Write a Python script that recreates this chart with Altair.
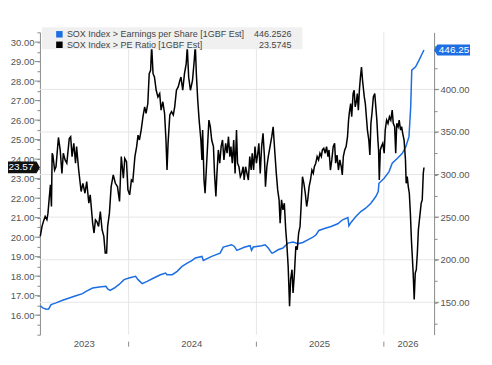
import altair as alt
import pandas as pd

# ---------------- data ----------------
base_date = "2024-01-01"  # day offsets below are relative to this date

pe_days = [-253, -248, -244, -239, -234, -231, -227, -224, -221, -219, -217, -212, -208, -201, -196,
           -191, -187, -182, -177, -170, -166, -162, -157, -152, -149, -143, -136, -131, -125, -120,
           -114, -110, -103, -99, -95, -91, -86, -81, -76, -71, -67, -63, -60, -55, -50, -44, -38,
           -32, -26, -21, -15, -11, -6, -2, 3, 8, 12, 18, 23, 27, 31, 36, 41, 46, 50, 55, 59, 63, 66,
           70, 74, 79, 84, 89, 93, 98, 103, 107, 110, 113, 118, 123, 128, 132, 137, 142, 147, 150,
           155, 160, 165, 168, 172, 177, 183, 188, 191, 194, 198, 202, 207, 210, 212, 216, 219, 223,
           227, 230, 234, 238, 243, 246, 250, 253, 257, 261, 265, 269, 273, 278, 282, 286, 290, 293,
           297, 301, 305, 309, 312, 316, 320, 324, 328, 331, 335, 339, 343, 347, 351, 354, 358, 362,
           366, 370, 373, 377, 381, 385, 389, 392, 396, 400, 405, 410, 414, 419, 423, 427, 431, 434,
           438, 442, 446, 450, 453, 457, 461, 464, 468, 471, 475, 479, 483, 487, 491, 494, 498, 502,
           506, 510, 513, 517, 521, 525, 529, 532, 536, 540, 544, 548, 552, 555, 559, 563, 567, 571,
           574, 578, 582, 586, 590, 593, 597, 601, 605, 609, 612, 615, 619, 623, 627, 630, 632, 636,
           639, 643, 646, 649, 653, 655, 658, 661, 664, 667, 670, 673, 675, 678, 681, 684, 688, 691,
           694, 697, 701, 705, 708, 711, 714, 716, 718, 721, 724, 728, 732, 735, 739, 743, 747, 751,
           755, 758, 762, 765, 768, 772, 775, 779, 782, 785, 789, 793, 795, 798, 801, 804, 807, 810,
           813, 815, 818, 821, 824, 827, 830, 833, 835, 838, 841, 844, 846]
pe_vals = [20.04, 20.55, 20.80, 21.06, 20.89, 21.23, 22.08, 22.68, 21.57, 24.30, 24.21, 23.44, 23.61,
           25.11, 24.47, 23.27, 24.30, 23.96, 23.79, 25.06, 25.15, 24.13, 24.81, 23.79, 24.64, 23.44,
           22.34, 22.76, 22.25, 22.85, 21.74, 22.17, 20.72, 20.21, 20.89, 20.80, 20.55, 21.31, 20.38,
           20.04, 19.19, 19.19, 20.55, 21.23, 22.59, 23.19, 22.76, 22.59, 21.83, 24.13, 23.02, 24.04,
           23.87, 22.42, 22.17, 22.93, 22.85, 24.13, 24.64, 25.23, 24.98, 25.49, 26.17, 26.68, 26.34,
           26.85, 28.38, 28.55, 29.80, 28.38, 28.21, 27.53, 27.19, 27.36, 26.51, 26.94, 26.34, 24.98,
           23.44, 24.81, 26.26, 26.43, 26.26, 26.68, 27.53, 27.70, 28.04, 28.21, 27.53, 28.38, 28.89,
           29.75, 28.21, 27.53, 28.04, 29.07, 29.85, 28.38, 27.02, 26.00, 24.98, 23.96, 25.49, 22.93,
           22.25, 23.61, 24.98, 26.00, 25.66, 24.98, 24.64, 23.27, 22.08, 23.27, 24.47, 23.79, 24.64,
           24.98, 23.96, 24.81, 24.30, 25.15, 24.13, 24.64, 23.79, 24.98, 23.27, 25.49, 23.79, 23.61,
           23.10, 23.27, 23.61, 22.93, 23.61, 23.27, 22.93, 24.13, 23.44, 24.30, 23.44, 24.64, 23.79,
           24.30, 24.81, 23.27, 24.64, 25.32, 24.13, 22.59, 23.61, 24.13, 24.64, 25.15, 25.66, 24.30,
           23.27, 22.42, 21.91, 20.72, 21.91, 21.40, 21.74, 20.38, 19.70, 18.50, 16.46, 17.82, 18.33,
           17.14, 18.16, 19.53, 19.36, 20.21, 20.55, 21.57, 23.10, 22.76, 22.25, 21.57, 21.91, 22.59,
           22.93, 23.44, 23.27, 23.61, 23.79, 24.13, 23.96, 24.30, 24.13, 24.47, 24.55, 24.30, 24.64,
           24.13, 24.47, 23.44, 23.96, 24.64, 24.81, 23.79, 24.21, 23.44, 23.96, 23.61, 23.19, 24.13,
           24.47, 24.64, 25.15, 26.00, 26.34, 26.85, 26.17, 27.36, 27.53, 26.68, 27.02, 27.36, 26.51,
           27.53, 28.21, 28.72, 28.04, 27.53, 27.19, 26.85, 26.17, 25.49, 24.98, 24.21, 25.83, 26.34,
           27.19, 27.36, 26.68, 26.00, 24.98, 24.47, 22.93, 24.47, 24.64, 24.81, 24.30, 25.49, 26.00,
           25.83, 26.17, 26.00, 26.51, 25.83, 25.66, 24.30, 25.83, 25.66, 26.00, 25.49, 25.66, 25.32,
           24.98, 23.96, 22.76, 23.10, 22.59, 22.25, 21.23, 19.87, 18.85, 18.16, 16.80, 18.16, 18.33,
           19.19, 20.38, 20.89, 21.23, 21.74, 21.91, 23.27, 23.57]

eps_days = [-253, -246, -236, -229, -222, -208, -189, -170, -151, -132, -122, -103, -84, -65, -60,
            -53, -41, -28, -13, 1, 20, 27, 39, 53, 72, 91, 106, 110, 125, 139, 153, 168, 182, 191,
            210, 214, 238, 262, 271, 295, 303, 310, 333, 348, 352, 357, 381, 391, 400, 410, 413, 428,
            442, 456, 471, 485, 499, 513, 528, 537, 545, 561, 580, 599, 613, 628, 631, 637, 651, 665,
            679, 694, 708, 715, 717, 732, 746, 755, 770, 784, 794, 803, 808, 811, 822, 832, 841, 846]
eps_vals = [146.0, 143.5, 142.0, 142.2, 147.3, 149.3, 152.4, 155.1, 157.8, 160.2, 162.9, 166.8, 168.0,
            168.8, 165.7, 164.1, 166.8, 170.7, 176.6, 178.5, 180.5, 176.6, 171.9, 174.6, 178.5, 182.4,
            184.4, 182.4, 182.4, 186.4, 192.2, 196.1, 199.2, 202.0, 203.9, 199.2, 203.9, 207.8, 214.9,
            217.6, 215.6, 211.0, 214.9, 216.4, 211.0, 214.9, 216.4, 217.6, 213.7, 207.8, 207.8, 211.7,
            213.7, 219.5, 220.7, 218.8, 220.3, 223.4, 226.6, 229.3, 234.4, 236.7, 239.1, 242.2, 246.9,
            249.6, 239.8, 243.8, 250.8, 256.6, 260.5, 266.4, 274.2, 280.0, 289.8, 295.7, 303.5, 313.3,
            319.1, 325.0, 332.8, 344.5, 379.7, 422.6, 426.5, 434.3, 442.1, 446.25]

legend_labels = ["SOX Index > Earnings per Share [1GBF Est]", "SOX Index > PE Ratio [1GBF Est]"]
legend_values = ["446.2526", "23.5745"]
pe_last = 23.5745
eps_last = 446.2526

year_labels = ["2023", "2024", "2025", "2026"]
year_label_dates = ["2023-08-27", "2024-06-30", "2025-07-01", "2026-03-11"]
year_starts = ["2024-01-01", "2025-01-01", "2026-01-01"]
quarter_ticks = ["2023-07-01", "2023-10-01", "2024-04-01", "2024-07-01", "2024-10-01",
                 "2025-04-01", "2025-07-01", "2025-10-01", "2026-04-01"]
x_domain = ["2023-04-22", "2026-05-25"]
left_domain = [15.0, 30.5]
right_domain = [112.0, 467.0]
left_major = list(range(16, 31))
right_major = [150, 200, 250, 300, 350, 400, 450]
right_grid_values = [150, 200, 250, 300, 350, 400]

# ---------------- styling ----------------
FONT = "Liberation Sans"
BLUE = "#1c6ee2"
BLACK = "#000000"
GRID = "#e6e6e6"
AXIS = "#8c8c8c"
LABEL = "#555555"
W, H = 395, 303


def dt(s):
    t = pd.Timestamp(s)
    return alt.DateTime(year=t.year, month=t.month, date=t.day)


base = pd.Timestamp(base_date)
pe_df = pd.DataFrame({"date": base + pd.to_timedelta(pe_days, unit="D"), "pe": pe_vals})
eps_df = pd.DataFrame({"date": base + pd.to_timedelta(eps_days, unit="D"), "eps": eps_vals})
ys_df = pd.DataFrame({"date": pd.to_datetime(year_starts)})
yl_df = pd.DataFrame({"date": pd.to_datetime(year_label_dates), "label": year_labels})
pe_last_df = pd.DataFrame({"pe": [pe_last], "txt": [f"{pe_last:.2f}"]})
eps_last_df = pd.DataFrame({"eps": [eps_last], "txt": [f"{eps_last:.2f}"]})
grid_df = pd.DataFrame({"eps": right_grid_values})
rmaj_df = pd.DataFrame({"eps": right_major})
lmaj_df = pd.DataFrame({"pe": left_major})
one = pd.DataFrame({"a": [0]})


def xs():
    return alt.Scale(domain=[dt(x_domain[0]), dt(x_domain[1])])


def ls():
    return alt.Scale(domain=left_domain, nice=False, zero=False)


def rs():
    return alt.Scale(domain=right_domain, nice=False, zero=False)


x_axis = alt.Axis(values=[dt(q) for q in quarter_ticks], labels=False, grid=False, tickSize=3,
                  tickColor=AXIS, domainColor=AXIS, title=None)
x_plain = alt.X("date:T", scale=xs(), axis=None)

left_ticks = [left_domain[0] + 0.5 * i for i in range(int((left_domain[1] - left_domain[0]) / 0.5) + 1)]
left_axis = alt.Axis(orient="left", values=left_ticks, grid=False, title=None,
                     labelExpr="datum.value % 1 === 0 && datum.value >= 16 ? format(datum.value, '.2f') : ''",
                     tickSize=3, labelPadding=3, labelOverlap=False, labelFont=FONT, labelFontSize=9.5,
                     labelColor=LABEL, tickColor=AXIS, domainColor=AXIS)
right_ticks = list(range(125, 451, 25))
right_axis = alt.Axis(orient="right", values=right_ticks, grid=False, title=None,
                      labelExpr="datum.value % 50 === 0 && datum.value <= 400 ? format(datum.value, '.2f') : ''",
                      tickSize=3, labelPadding=3, labelOverlap=False, labelFont=FONT, labelFontSize=9.5,
                      labelColor=LABEL, tickColor=AXIS, domainColor=AXIS)

# vertical year gridlines
vgrid = alt.Chart(ys_df).mark_rule(color=GRID, strokeWidth=1).encode(
    x=x_plain, y=alt.value(0), y2=alt.value(H))
# horizontal gridlines at the right-axis values
hgrid = alt.Chart(grid_df).mark_rule(color=GRID, strokeWidth=1).encode(
    y=alt.Y("eps:Q", scale=rs(), axis=None), x=alt.value(0), x2=alt.value(W))

# EPS series (right axis)
eps_line = alt.Chart(eps_df).mark_line(color=BLUE, strokeWidth=1.5).encode(
    x=x_plain, y=alt.Y("eps:Q", scale=rs(), axis=right_axis))
rmaj = alt.Chart(rmaj_df).mark_rule(color=AXIS, strokeWidth=1).encode(
    y=alt.Y("eps:Q", scale=rs(), axis=None), x=alt.value(W), x2=alt.value(W + 5))
eps_badge = alt.Chart(eps_last_df).mark_point(
    shape="M-1,0L-0.82,-0.31L1,-0.31L1,0.31L-0.82,0.31Z", size=1296, filled=True,
    fill=BLUE, opacity=1, strokeWidth=0).encode(
    x=alt.value(W + 18), y=alt.Y("eps:Q", scale=rs(), axis=None))
eps_badge_txt = alt.Chart(eps_last_df).mark_text(
    color="white", font=FONT, fontSize=10, align="center", baseline="middle").encode(
    x=alt.value(W + 20), y=alt.Y("eps:Q", scale=rs(), axis=None), text="txt:N")

# PE series (left axis)
pe_line = alt.Chart(pe_df).mark_line(color=BLACK, strokeWidth=1.5).encode(
    x=alt.X("date:T", scale=xs(), axis=x_axis),
    y=alt.Y("pe:Q", scale=ls(), axis=left_axis))
lmaj = alt.Chart(lmaj_df).mark_rule(color=AXIS, strokeWidth=1).encode(
    y=alt.Y("pe:Q", scale=ls(), axis=None), x=alt.value(-5), x2=alt.value(0))
pe_badge = alt.Chart(pe_last_df).mark_point(
    shape="M-1,-0.35L0.8,-0.35L1,0L0.8,0.35L-1,0.35Z", size=1156, filled=True,
    fill="#111111", opacity=1, strokeWidth=0).encode(
    x=alt.value(-17), y=alt.Y("pe:Q", scale=ls(), axis=None))
pe_badge_txt = alt.Chart(pe_last_df).mark_text(
    color="white", font=FONT, fontSize=10, align="center", baseline="middle").encode(
    x=alt.value(-19), y=alt.Y("pe:Q", scale=ls(), axis=None), text="txt:N")

# legend box
leg_box = alt.Chart(one).mark_rect(color="#f0f0f0").encode(
    x=alt.value(2), x2=alt.value(263), y=alt.value(-5), y2=alt.value(17))
legend_layers = [leg_box]
for i, (lab, val, col) in enumerate(zip(legend_labels, legend_values, [BLUE, BLACK])):
    yy = 2 + 10.5 * i
    legend_layers.append(alt.Chart(one).mark_square(size=42, color=col, opacity=1).encode(
        x=alt.value(19.5), y=alt.value(yy)))
    legend_layers.append(alt.Chart(one).mark_text(
        text=lab, align="left", baseline="middle", font=FONT, fontSize=9, color="#444444").encode(
        x=alt.value(27), y=alt.value(yy)))
    legend_layers.append(alt.Chart(one).mark_text(
        text=val, align="right", baseline="middle", font=FONT, fontSize=9, color="#444444").encode(
        x=alt.value(252), y=alt.value(yy)))

# year separators and labels below the axis
year_sep = alt.Chart(ys_df).mark_rule(color=AXIS, strokeWidth=1).encode(
    x=x_plain, y=alt.value(H + 7), y2=alt.value(H + 12))
year_txt = alt.Chart(yl_df).mark_text(
    font=FONT, fontSize=9.5, color=LABEL, baseline="middle", align="center").encode(
    x=x_plain, y=alt.value(H + 9.5), text="label:N")

chart = alt.layer(
    vgrid, hgrid, eps_line, rmaj, eps_badge, eps_badge_txt,
    pe_line, lmaj, pe_badge, pe_badge_txt, *legend_layers, year_sep, year_txt
).resolve_scale(y="independent").properties(
    width=W, height=H,
    autosize=alt.AutoSizeParams(type="none"),
    padding={"left": 32, "top": 24, "right": 50, "bottom": 20},
).configure_view(stroke=None)

chart.save("out.html", embed_options={"renderer": "svg", "actions": False})
